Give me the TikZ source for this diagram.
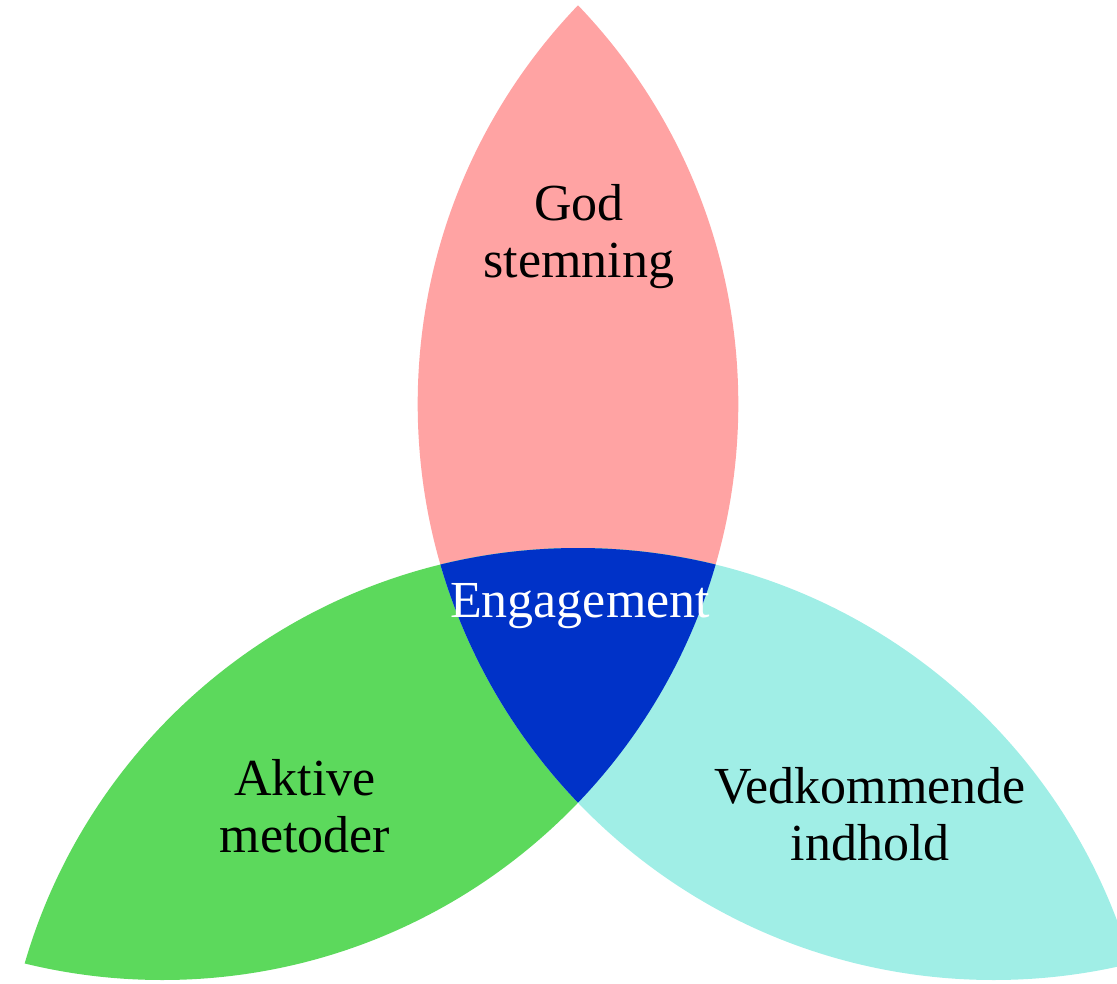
\documentclass[tikz,border=0pt]{standalone}
\usepackage{fontspec}
\setmainfont{Liberation Serif}
\usepackage{xcolor}

\definecolor{petalpink}{RGB}{255,163,163}
\definecolor{petalgreen}{RGB}{92,217,92}
\definecolor{petalcyan}{RGB}{160,238,230}
\definecolor{coreblue}{RGB}{0,50,200}
\newcommand{\petalradius}{576pt}

\begin{document}
\begin{tikzpicture}[x=1pt, y=-1pt,
		petaltext/.style={align=center, font=\fontsize{52}{57}\selectfont}]
	\useasboundingbox (0,0) rectangle (1117,984);
	\clip (0,0) rectangle (1117,984);
	% circle centres
	\coordinate (cleft) at (162.3,404);
	\coordinate (cright) at (993.7,404);
	\coordinate (cbottom) at (578,1124);
	% petals
	\begin{scope}
		\clip (cleft) circle (\petalradius);
		\fill[petalpink] (cright) circle (\petalradius);
	\end{scope}
	\begin{scope}
		\clip (cleft) circle (\petalradius);
		\fill[petalgreen] (cbottom) circle (\petalradius);
	\end{scope}
	\begin{scope}
		\clip (cright) circle (\petalradius);
		\fill[petalcyan] (cbottom) circle (\petalradius);
	\end{scope}
	% centre
	\begin{scope}
		\clip (cleft) circle (\petalradius);
		\clip (cright) circle (\petalradius);
		\fill[coreblue] (cbottom) circle (\petalradius);
	\end{scope}
	\node[petaltext] (god) at (579,237) {God\\stemning};
	\node[petaltext] (aktive) at (305,806) {Aktive\\metoder};
	\node[petaltext] (vedkommende) at (870,814) {Vedkommende\\indhold};
	\node[petaltext, text=white, anchor=base] (engagement) at (580,617) {Engagement};
\end{tikzpicture}
\end{document}
